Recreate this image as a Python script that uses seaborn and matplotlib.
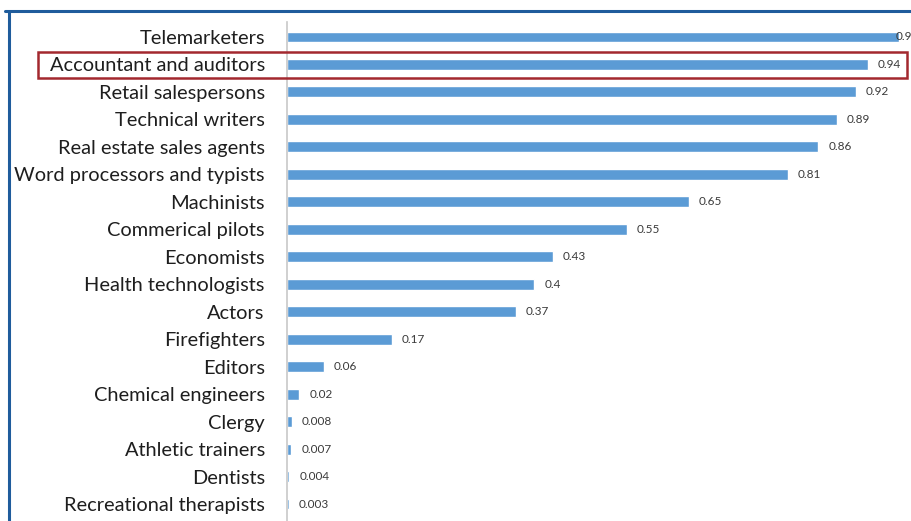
import matplotlib
matplotlib.use("Agg")
import matplotlib.pyplot as plt
import seaborn as sns
import pandas as pd
from matplotlib.patches import Rectangle
from matplotlib.lines import Line2D

occupations = [
    "Telemarketers", "Accountant and auditors", "Retail salespersons",
    "Technical writers", "Real estate sales agents", "Word processors and typists",
    "Machinists", "Commerical pilots", "Economists", "Health technologists",
    "Actors", "Firefighters", "Editors", "Chemical engineers", "Clergy",
    "Athletic trainers", "Dentists", "Recreational therapists",
]
probabilities = [0.99, 0.94, 0.92, 0.89, 0.86, 0.81, 0.65, 0.55, 0.43, 0.4,
                 0.37, 0.17, 0.06, 0.02, 0.008, 0.007, 0.004, 0.003]
value_labels = ["0.99", "0.94", "0.92", "0.89", "0.86", "0.81", "0.65", "0.55",
                "0.43", "0.4", "0.37", "0.17", "0.06", "0.02", "0.008", "0.007",
                "0.004", "0.003"]

df = pd.DataFrame({"occupation": occupations, "p": probabilities})

sns.set_style("white")
plt.rcParams["font.family"] = ["Lato", "DejaVu Sans"]

W, H = 911, 521
PX = 618.0  # pixels per unit on x
fig = plt.figure(figsize=(W / 100, H / 100), dpi=100)
fig.patch.set_facecolor("white")

ax_left = 287 / W
ax = fig.add_axes([ax_left, 0.0, 1 - ax_left, (H - 22) / H])

sns.barplot(data=df, x="p", y="occupation", orient="h", color="#5B9BD5",
            width=0.40, saturation=1, ax=ax)

ax.set_xlim(0, (W - 287) / PX)
sp = (504 - 37) / 17
ax.set_ylim(17 + (521 - 504) / sp, -(37 - 22) / sp)

# value labels; labels that would overflow are nudged inward (as Excel does)
x_cap = (896 - 287) / PX
for i, (v, lab) in enumerate(zip(probabilities, value_labels)):
    lx = min(v + 10 / PX, x_cap)
    ax.text(lx, i, lab, va="center", ha="left", fontsize=8.5,
            color="#3a3a3a", clip_on=False)

ax.set_xlabel("")
ax.set_ylabel("")
ax.set_xticks([])
ax.tick_params(axis="y", length=0, pad=16, labelsize=14.4, labelcolor="#1e1e1e")
for s in ["top", "right", "bottom"]:
    ax.spines[s].set_visible(False)
ax.spines["left"].set_color("#c8c8c8")
ax.spines["left"].set_linewidth(1.2)

# frame border (blue) at top and left
fig.add_artist(Line2D([5 / W, 1.0], [1 - 11 / H, 1 - 11 / H], color="#1F5C9C",
                      lw=2.2, transform=fig.transFigure))
fig.add_artist(Line2D([9 / W, 9 / W], [0, 1 - 11 / H], color="#1F5C9C",
                      lw=2.2, transform=fig.transFigure))

# red highlight rectangle
fig.add_artist(Rectangle((38 / W, 1 - 78 / H), (907 - 38) / W, 26 / H,
                         fill=False, edgecolor="#A3282E", lw=1.8,
                         transform=fig.transFigure))

fig.savefig("out.png", dpi=100, facecolor="white")
